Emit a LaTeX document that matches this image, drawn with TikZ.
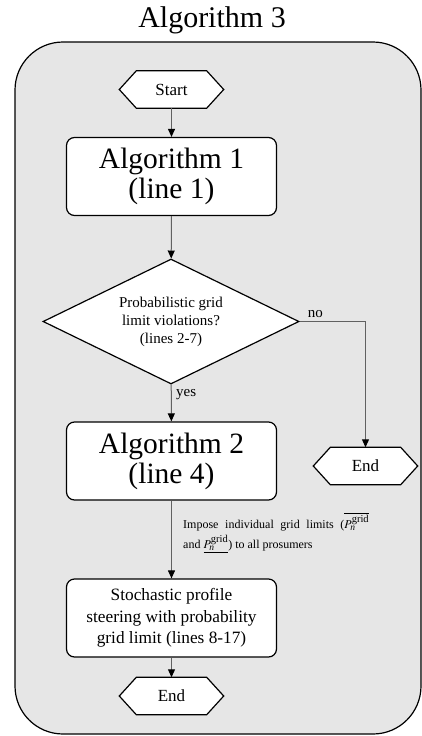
\documentclass[tikz,border=0pt]{standalone}
\usepackage{mathptmx}
\usepackage{fontspec}
\setmainfont{Liberation Serif}
\usetikzlibrary{shapes.geometric,arrows.meta}
\pgfdeclarelayer{back}
\pgfdeclarelayer{mid}
\pgfsetlayers{back,mid,main}
\definecolor{panelgray}{RGB}{230,230,230}
\newcommand\drawhexagon[1]{%
  \begin{pgfonlayer}{mid}
  \draw[line width=1.2pt, fill=white] (#1.west) -- ([xshift=17pt]#1.north west) -- ([xshift=-17pt]#1.north east) -- (#1.east) -- ([xshift=-17pt]#1.south east) -- ([xshift=17pt]#1.south west) -- cycle;
  \end{pgfonlayer}}
\newcommand\pgridsym{P_{\hbox{\fontsize{9.5}{9.5}\selectfont\itshape n}}^{\hbox{\fontsize{10.5}{10.5}\selectfont grid}}}
\begin{document}
\begin{tikzpicture}[x=1pt,y=-1pt,
  procbox/.style={draw, line width=1.2pt, fill=white, rounded corners=8pt, minimum width=210pt, minimum height=78pt, align=center, inner sep=0pt},
  bigfont/.style={font=\fontsize{29.5}{30}\selectfont},
  hexbox/.style={minimum width=104pt, minimum height=37pt, inner sep=0pt, font=\fontsize{17}{20}\selectfont},
  decbox/.style={draw, line width=1.2pt, fill=white, diamond, aspect=2, minimum width=256pt, minimum height=125pt, inner sep=0pt, align=center, font=\fontsize{15}{18}\selectfont},
  conn/.style={draw=black!62, line width=1pt, -{Triangle[length=8pt,width=7pt,color=black]}},
  lbl/.style={font=\fontsize{15}{18}\selectfont}]
\useasboundingbox (0,0) rectangle (422,736);
\begin{pgfonlayer}{back}
\draw[fill=panelgray, line width=1.2pt, rounded corners=48pt] (15,42) rectangle (421,734);
\end{pgfonlayer}
\node[font=\fontsize{30}{36}\selectfont] (title) at (212,20) {Algorithm 3};

\node[hexbox] (start) at (171.5,89.5) {Start};
\drawhexagon{start}

\node[procbox, bigfont] (alg1) at (171.5,176.5) {Algorithm 1\\(line 1)};

\node[decbox] (dec) at (171,321.5) {Probabilistic grid\\limit violations?\\(lines 2-7)};

\node[procbox, bigfont] (alg2) at (171.5,461) {Algorithm 2\\(line 4)};

\node[hexbox] (end1) at (365.5,466) {End};
\drawhexagon{end1}

\node[procbox, font=\fontsize{17.3}{21.5}\selectfont] (sps) at (171.5,618) {Stochastic profile\\steering with probability\\grid limit (lines 8-17)};

\node[hexbox] (end2) at (171.5,696) {End};
\drawhexagon{end2}

\node[anchor=west, text width=186pt, align=justify, inner sep=0pt, font=\fontsize{12}{20}\selectfont] (impose) at (183,533) {Impose individual grid limits ($\overline{\pgridsym}$\linebreak and $\underline{\pgridsym}$) to all prosumers};

\draw[conn] (start) -- (alg1);
\draw[conn] (alg1) -- (dec);
\draw[conn] (dec) -- node[lbl, right, pos=0.28, xshift=1pt] (yes) {yes} (alg2);
\draw[conn] (dec.east) -| node[lbl, above, pos=0.12] (no) {no} (end1.north);
\draw[conn] (alg2) -- (sps);
\draw[conn] (sps) -- (end2);
\end{tikzpicture}
\end{document}
